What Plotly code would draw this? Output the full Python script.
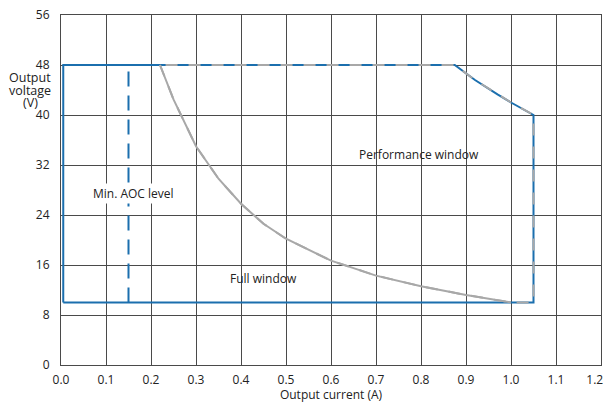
import plotly.graph_objects as go

# Full window outline (A, V)
full_i = [0.005, 0.005, 0.875, 0.92, 0.97, 1.0, 1.05, 1.05, 0.005]
full_v = [10, 48, 48, 45.6, 43.3, 42.0, 40, 10, 10]

# Performance window outline (A, V)
perf_i = [0.22, 0.25, 0.3, 0.35, 0.4, 0.45, 0.5, 0.6, 0.7, 0.8, 0.9, 1.0, 1.05, 1.05, 1.0, 0.97, 0.92, 0.875, 0.22]
perf_v = [48, 42.5, 35, 29.8, 25.8, 22.6, 20.2, 16.7, 14.3, 12.6, 11.2, 10, 10, 40, 42.0, 43.3, 45.6, 48, 48]

# Min. AOC level
aoc_i = [0.15, 0.15]
aoc_v = [10, 48]

x_ticks = [0.0, 0.1, 0.2, 0.3, 0.4, 0.5, 0.6, 0.7, 0.8, 0.9, 1.0, 1.1, 1.2]
y_ticks = [0, 8, 16, 24, 32, 40, 48, 56]
y_title_lines = ["Output", "voltage", "(V)"]

blue = "#1b6fae"
gray = "#a8a8a8"
grid = "#4a4a4a"
font = "Open Sans"

fig = go.Figure()
fig.add_trace(go.Scatter(x=full_i, y=full_v, mode="lines",
                         line=dict(color=blue, width=2), hoverinfo="skip"))
fig.add_trace(go.Scatter(x=perf_i, y=perf_v, mode="lines",
                         line=dict(color=gray, width=2, dash="12px,11px"), hoverinfo="skip"))
# gray curve drawn solid down to the bottom edge
fig.add_trace(go.Scatter(x=perf_i[:12], y=perf_v[:12], mode="lines",
                         line=dict(color=gray, width=2), hoverinfo="skip"))
fig.add_trace(go.Scatter(x=aoc_i, y=aoc_v, mode="lines",
                         line=dict(color=blue, width=2, dash="15px,9px"), hoverinfo="skip"))

annotations = [
    dict(x=0.16, y=27.4, xref="x", yref="y", text="Min. AOC level",
         showarrow=False, font=dict(size=12), bgcolor="white"),
    dict(x=0.795, y=33.7, xref="x", yref="y", text="Performance window",
         showarrow=False, font=dict(size=12)),
    dict(x=0.45, y=13.8, xref="x", yref="y", text="Full window",
         showarrow=False, font=dict(size=12)),
]
for line_text, yp in zip(y_title_lines, [0.822, 0.785, 0.750]):
    annotations.append(dict(x=-0.0574, y=yp, xref="paper", yref="paper", text=line_text,
                            xanchor="center", yanchor="middle", showarrow=False,
                            font=dict(size=12.5)))

# last tick label padded so it stays inside the visible page edge
x_ticktext = [f"{v:.1f}" for v in x_ticks]
x_ticktext[-1] = x_ticktext[-1] + "&nbsp;" * 4

fig.update_layout(
    width=603, height=395,
    margin=dict(l=53, r=10, t=7, b=38, autoexpand=False),
    paper_bgcolor="white", plot_bgcolor="white",
    showlegend=False,
    font=dict(family=font, size=12, color="#222"),
    xaxis=dict(range=[0, 1.2], tickvals=x_ticks, ticktext=x_ticktext,
               showgrid=True, gridcolor=grid, gridwidth=1, zeroline=False,
               showline=True, linecolor=grid, linewidth=1, mirror=True,
               ticks="", ticklabelstandoff=4, automargin=False, ticklabeloverflow="allow",
               title=dict(text="Output current (A)", font=dict(size=12), standoff=0)),
    yaxis=dict(range=[0, 56], tickvals=y_ticks,
               showgrid=True, gridcolor=grid, gridwidth=1, zeroline=False,
               showline=True, linecolor=grid, linewidth=1, mirror=True,
               ticks="", ticklabelstandoff=8, automargin=False, ticklabeloverflow="allow"),
    annotations=annotations,
)

fig.write_html("out.html")
